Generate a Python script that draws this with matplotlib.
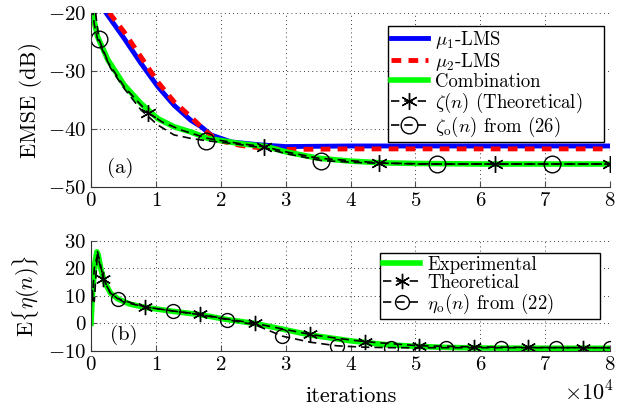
import numpy as np
import matplotlib
matplotlib.use("Agg")
import matplotlib.pyplot as plt

plt.rcParams['font.family'] = 'serif'
plt.rcParams['font.serif'] = ['cmr10', 'DejaVu Serif']
plt.rcParams['mathtext.fontset'] = 'cm'
plt.rcParams['axes.unicode_minus'] = False
plt.rcParams['axes.formatter.use_mathtext'] = True

# ---- panel (a): EMSE, x in units of 1e4 iterations
mu1_x = [0.23, 0.51, 0.77, 1.03, 1.28, 1.54, 1.7, 1.85, 2.16, 2.6, 3.0, 4.0, 5.0, 6.0, 7.0, 8.0]
mu1_y = [-20, -24.4, -28.7, -32.7, -35.9, -38.5, -39.6, -41.0, -42.2, -42.7, -43.0, -42.9, -42.9, -42.9, -42.9, -42.9]

mu2_x = [0.28, 0.51, 0.77, 1.03, 1.28, 1.54, 1.75, 1.95, 2.3, 2.6, 3.0, 4.0, 5.0, 6.0, 7.0, 8.0]
mu2_y = [-20, -23.3, -27.6, -31.9, -35.3, -37.9, -40.2, -41.9, -42.8, -43.2, -43.5, -43.4, -43.4, -43.4, -43.4, -43.4]

comb_x = [0.02, 0.05, 0.1, 0.26, 0.51, 0.77, 1.03, 1.28, 1.54, 1.8, 2.3, 2.7, 3.0, 3.5, 4.0, 4.5, 5.0, 6.0, 7.0, 8.0]
comb_y = [-19, -21.5, -24.1, -28.1, -32.4, -35.6, -38.2, -39.6, -40.5, -41.6, -42.5, -43.0, -43.9, -45.0, -45.5, -45.8, -45.9, -46, -46, -46]

zeta_x = [0.02, 0.05, 0.1, 0.26, 0.51, 0.88, 1.1, 1.4, 1.8, 2.3, 2.66, 3.0, 3.5, 4.44, 5.0, 6.22, 7.0, 8.0]
zeta_y = [-19, -22, -24.5, -28.5, -32.7, -37.2, -38.8, -40.2, -41.6, -42.5, -43.0, -43.9, -45.0, -45.8, -46, -46, -46, -46]
zeta_mk = [0.88, 2.66, 4.44, 6.22, 8.0]

zetao_x = [0.07, 0.12, 0.3, 0.51, 0.77, 1.03, 1.28, 1.54, 1.78, 2.2, 2.7, 3.0, 3.55, 4.2, 5.33, 7.1, 8.0]
zetao_y = [-20, -24.5, -29.5, -33.0, -36.7, -39.3, -41.0, -41.6, -42.0, -42.5, -43.3, -44.2, -45.4, -45.8, -46, -46, -46]
zetao_mk = [0.12, 1.78, 3.55, 5.33, 7.1]

# ---- panel (b): E{eta(n)}
exp_x = [0, 0.02, 0.04, 0.06, 0.09, 0.11, 0.15, 0.2, 0.3, 0.42, 0.6, 0.84, 1.26, 1.68, 2.1, 2.53, 3.0, 3.38, 4.0, 4.5, 5.0, 5.5, 6.0, 7.0, 8.0]
exp_y = [0, 10, 16, 22, 26, 25, 20, 15.5, 11, 8.8, 7, 5.8, 4.4, 3.2, 1.4, 0, -2.3, -4.2, -6.3, -7.6, -8.3, -8.7, -8.9, -9, -9]

theo_x = [0, 0.02, 0.05, 0.1, 0.14, 0.19, 0.3, 0.5, 0.83, 1.27, 1.68, 2.1, 2.53, 3.0, 3.38, 3.8, 4.22, 5.06, 5.9, 6.74, 7.58, 8.0]
theo_y = [5, 12, 8, 26, 22, 16.3, 11, 7.8, 6.0, 4.5, 3.3, 1.6, 0, -2.2, -4.0, -5.4, -6.6, -8.1, -8.5, -8.7, -8.8, -8.8]
theo_mk = [0.19, 0.83, 1.68, 2.53, 3.38, 4.22, 5.06, 5.9, 6.74, 7.58]

etao_x = [0.02, 0.05, 0.1, 0.19, 0.3, 0.41, 0.83, 1.27, 1.68, 2.1, 2.53, 2.95, 3.38, 3.79, 4.2, 4.63, 5.47, 6.32, 7.16, 8.0]
etao_y = [8, 20, 25, 16, 11, 9.0, 6.0, 4.5, 3.2, 1.4, -0.5, -4.6, -6.8, -8.1, -8.6, -8.8, -8.8, -8.8, -8.8, -8.8]
etao_mk = [0.41, 1.27, 2.1, 2.95, 3.79, 4.63, 5.47, 6.32, 7.16, 8.0]


def idx(xs, marks):
    return [xs.index(m) for m in marks]


star = (6, 2, 0)

fig = plt.figure(figsize=(6.29, 4.12), dpi=100)
ax1 = fig.add_axes([0.1447, 0.5454, 0.8251, 0.4237])
ax2 = fig.add_axes([0.1447, 0.148, 0.8251, 0.2677])

# (a)
ax1.plot(mu1_x, mu1_y, color='b', lw=3.5, label=r'$\mu_1$-LMS')
ax1.plot(mu2_x, mu2_y, color='r', lw=3.5, ls=(0, (2, 1.5)), label=r'$\mu_2$-LMS')
ax1.plot(comb_x, comb_y, color=(0, 1, 0), lw=4, label='Combination')
ax1.plot(zeta_x, zeta_y, color='k', lw=1.2, ls=(0, (5, 3)), marker=star, ms=12, mew=1,
         markevery=idx(zeta_x, zeta_mk), label=r'$\zeta(n)$ (Theoretical)')
ax1.plot(zetao_x, zetao_y, color='k', lw=1.2, ls=(0, (5, 3)), marker='o', ms=12, mew=1, mfc='none',
         markevery=idx(zetao_x, zetao_mk), label=r'$\zeta_{\rm o}(n)$ from (26)')
ax1.set_xlim(0, 8)
ax1.set_ylim(-50, -20)
ax1.set_yticks([-50, -40, -30, -20])
ax1.set_ylabel('EMSE (dB)', fontsize=16)
ax1.text(0.25, -47.5, '(a)', fontsize=15)
leg1 = ax1.legend(loc='upper left', bbox_to_anchor=(0.572, 0.5, 0.416, 0.424), mode='expand',
                  borderaxespad=0, fontsize=13.5, handlelength=2.0, handletextpad=0.35,
                  borderpad=0.15, labelspacing=0.0, framealpha=1, fancybox=False, edgecolor='k')
leg1.get_frame().set_linewidth(1)

# (b)
ax2.plot(exp_x, exp_y, color=(0, 1, 0), lw=4, label='Experimental')
ax2.plot(theo_x, theo_y, color='k', lw=1.2, ls=(0, (5, 3)), marker=star, ms=11, mew=1,
         markevery=idx(theo_x, theo_mk), label='Theoretical')
ax2.plot(etao_x, etao_y, color='k', lw=1.2, ls=(0, (5, 3)), marker='o', ms=10, mew=1, mfc='none',
         markevery=idx(etao_x, etao_mk), label=r'$\eta_{\rm o}(n)$ from (22)')
ax2.set_xlim(0, 8)
ax2.set_ylim(-10, 30)
ax2.set_yticks([-10, 0, 10, 20, 30])
ax2.set_ylabel(r'$\mathrm{E}\{\eta(n)\}$', fontsize=16)
ax2.set_xlabel('iterations', fontsize=16, labelpad=9)
ax2.text(0.3, -6, '(b)', fontsize=15)
leg2 = ax2.legend(loc='upper left', bbox_to_anchor=(0.557, 0.3, 0.424, 0.588), mode='expand',
                  borderaxespad=0, fontsize=13.5, handlelength=2.0, handletextpad=0.35,
                  borderpad=0.15, labelspacing=0.0, framealpha=1, fancybox=False, edgecolor='k')
leg2.get_frame().set_linewidth(1)
fig.text(0.975, 0.028, r'$\times10^4$', fontsize=16, ha='right', va='baseline')

for ax in (ax1, ax2):
    ax.set_xticks(range(9))
    ax.grid(True, ls=(0, (1, 4)), color='k', lw=0.6)
    ax.spines['top'].set_visible(False)
    ax.spines['right'].set_visible(False)
    ax.spines['left'].set_color('0.2')
    ax.spines['bottom'].set_color('0.2')
    ax.tick_params(direction='in', labelsize=15, length=4, color='0.3')

fig.savefig('out.png', dpi=100)
